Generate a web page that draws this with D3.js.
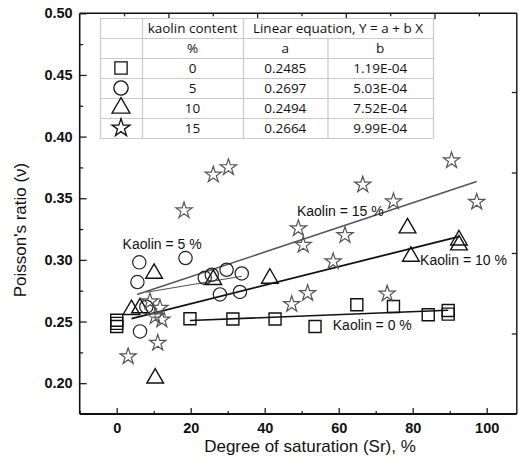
<!DOCTYPE html>
<html>
<head>
<meta charset="utf-8">
<script src="https://cdn.jsdelivr.net/npm/d3@7/dist/d3.min.js"></script>
<style>
  html, body { margin: 0; padding: 0; background: #fff; }
  svg { display: block; }
</style>
</head>
<body>
<svg id="chart" width="519" height="460"></svg>
<script>
// Kaolin content of each mix (%)
const kaolinContent = [0, 5, 10, 15];

// Measured Poisson's ratio against degree of saturation, one pair of arrays per mix
const srK0  = [0, 0, 0, 19.8, 31.4, 42.8, 53.6, 64.9, 74.8, 84.2, 89.6, 89.6];
const nuK0  = [0.251, 0.2485, 0.246, 0.2523, 0.252, 0.252, 0.246, 0.2636, 0.2622, 0.2555, 0.259, 0.256];

const srK5  = [5.6, 6.1, 6.3, 8.0, 18.6, 23.8, 25.7, 27.9, 29.7, 33.3, 33.8];
const nuK5  = [0.282, 0.298, 0.242, 0.262, 0.3015, 0.2855, 0.288, 0.272, 0.292, 0.274, 0.289];

const srK10 = [4.0, 6.3, 10.1, 10.4, 26.1, 41.4, 78.6, 79.5, 92.5, 92.5];
const nuK10 = [0.2596, 0.261, 0.289, 0.204, 0.284, 0.285, 0.3258, 0.3028, 0.316, 0.312];

const srK15 = [3.1, 9.0, 10.4, 11.1, 11.7, 12.2, 18.2, 26.1, 30.2, 47.3, 49.1, 50.4, 51.6, 58.5, 61.7, 66.5, 73.1, 74.8, 90.5, 97.3];
const nuK15 = [0.2217, 0.2663, 0.254, 0.2326, 0.261, 0.2515, 0.340, 0.369, 0.375, 0.264, 0.3255, 0.312, 0.273, 0.2987, 0.320, 0.361, 0.2725, 0.3473, 0.3806, 0.347];

// Linear fits  nu = a + b * Sr
const fitA = [0.2485, 0.2697, 0.2494, 0.2664];
const fitB = [1.19e-4, 5.03e-4, 7.52e-4, 9.99e-4];
const fitFrom = [19.8, 8.0, 4.0, 5.5];
const fitTo   = [89.6, 33.8, 92.5, 97.3];

// Fit labels
const fitLabels = ["Kaolin = 0 %", "Kaolin = 5 %", "Kaolin = 10 %", "Kaolin = 15 %"];

// Axis ticks
const xTicksMajor = [0, 20, 40, 60, 80, 100];
const xTicksMinor = [-10, 10, 30, 50, 70, 90];
const yTicksMajor = [0.20, 0.25, 0.30, 0.35, 0.40, 0.45, 0.50];
const yTicksMinor = [0.225, 0.275, 0.325, 0.375, 0.425, 0.475];

const svg = d3.select("#chart");
const font = "'Liberation Sans', Arial, sans-serif";

const x = d3.scaleLinear().domain([-10, 108]).range([79.7, 516.3]);
const y = d3.scaleLinear().domain([0.175, 0.5]).range([414, 13.3]);
// secondary frame scales (unlabelled top and right axes)
const xTop = d3.scaleLinear().domain([0, 4.922]).range([79.7, 516.3]);
const yRight = d3.scaleLinear().domain([0, 5]).range([414, 11.5]);

const series = [
  { sr: srK0,  nu: nuK0,  shape: d3.symbolSquare,   size: 144, color: "#111", width: 1.4 },
  { sr: srK5,  nu: nuK5,  shape: d3.symbolCircle,   size: 139, color: "#222", width: 1.2 },
  { sr: srK10, nu: nuK10, shape: d3.symbolTriangle, size: 121, color: "#111", width: 1.4 },
  { sr: srK15, nu: nuK15, shape: d3.symbolStar,     size: 82,  color: "#555", width: 1.2 }
];
const lineStyle = [
  { color: "#111", width: 1.6 },
  { color: "#555", width: 1.2 },
  { color: "#111", width: 1.8 },
  { color: "#555", width: 1.5 }
];

// ---- frame and axes ----
function styleAxis(g) {
  g.select(".domain").remove();
  g.selectAll(".tick line").attr("stroke", "#222").attr("stroke-width", 1.3);
  g.selectAll(".tick text")
    .attr("fill", "#111")
    .style("font-family", font)
    .style("font-size", "14.5px")
    .style("font-weight", "bold");
}

svg.append("g").attr("transform", "translate(0,414)")
  .call(d3.axisBottom(x).tickValues(xTicksMajor).tickSize(-6).tickPadding(9).tickSizeOuter(0))
  .call(styleAxis);
svg.append("g").attr("transform", "translate(0,414)")
  .call(d3.axisBottom(x).tickValues(xTicksMinor).tickSize(-3).tickFormat("").tickSizeOuter(0))
  .call(styleAxis);

svg.append("g").attr("transform", "translate(79.7,0)")
  .call(d3.axisLeft(y).tickValues(yTicksMajor).tickSize(-7).tickPadding(7).tickSizeOuter(0)
        .tickFormat(d3.format(".2f")))
  .call(styleAxis);
svg.append("g").attr("transform", "translate(79.7,0)")
  .call(d3.axisLeft(y).tickValues(yTicksMinor).tickSize(-3.5).tickFormat("").tickSizeOuter(0))
  .call(styleAxis);

svg.append("g").attr("transform", "translate(0,13.3)")
  .call(d3.axisTop(xTop).tickValues([1, 2, 3, 4]).tickSize(-6).tickFormat("").tickSizeOuter(0))
  .call(styleAxis);
svg.append("g").attr("transform", "translate(0,13.3)")
  .call(d3.axisTop(xTop).tickValues([0.5, 1.5, 2.5, 3.5, 4.5]).tickSize(-3).tickFormat("").tickSizeOuter(0))
  .call(styleAxis);

svg.append("g").attr("transform", "translate(516.8,0)")
  .call(d3.axisRight(yRight).tickValues([1, 2, 3, 4]).tickSize(-5).tickFormat("").tickSizeOuter(0))
  .call(styleAxis);

const [x0, x1] = x.range();
const [yb, yt] = y.range();
svg.append("line").attr("x1", x0).attr("x2", x1 + 0.5).attr("y1", yb).attr("y2", yb)
  .attr("stroke", "#111").attr("stroke-width", 2.2);
svg.append("line").attr("x1", x0).attr("x2", x0).attr("y1", yt).attr("y2", yb)
  .attr("stroke", "#111").attr("stroke-width", 1.6);
svg.append("line").attr("x1", x0).attr("x2", x1 + 0.5).attr("y1", yt).attr("y2", yt)
  .attr("stroke", "#111").attr("stroke-width", 1.6);
svg.append("line").attr("x1", x1 + 0.5).attr("x2", x1 + 0.5).attr("y1", yt).attr("y2", yb)
  .attr("stroke", "#111").attr("stroke-width", 1.4);

// axis titles
svg.append("text")
  .attr("x", (x0 + x1) / 2 + 12).attr("y", 452)
  .attr("text-anchor", "middle")
  .style("font-family", font).style("font-size", "17px").attr("fill", "#111")
  .text("Degree of saturation (Sr), %");
svg.append("text")
  .attr("transform", "translate(26,230) rotate(-90)")
  .attr("text-anchor", "middle")
  .style("font-family", font).style("font-size", "17px").attr("fill", "#111")
  .text("Poisson's ratio (\u03bd)");

// ---- fitted lines ----
const plot = svg.append("g");
kaolinContent.forEach((k, i) => {
  const pts = [fitFrom[i], fitTo[i]].map(s => [x(s), y(fitA[i] + fitB[i] * s)]);
  plot.append("path")
    .attr("d", d3.line()(pts))
    .attr("fill", "none")
    .attr("stroke", lineStyle[i].color)
    .attr("stroke-width", lineStyle[i].width);
});

// ---- markers ----
series.forEach(s => {
  const sym = d3.symbol().type(s.shape).size(s.size);
  plot.append("g").selectAll("path")
    .data(d3.zip(s.sr, s.nu))
    .join("path")
    .attr("transform", d => `translate(${x(d[0])},${y(d[1])})`)
    .attr("d", sym)
    .attr("fill", "none")
    .attr("stroke", s.color)
    .attr("stroke-width", s.width);
});

// ---- fit labels (anchored in data coordinates) ----
const labelAt = [[58.4, 0.2434], [1.6, 0.309], [82.0, 0.296], [48.7, 0.3357]];
fitLabels.forEach((t, i) => {
  svg.append("text")
    .attr("x", x(labelAt[i][0])).attr("y", y(labelAt[i][1]))
    .style("font-family", font).style("font-size", "14px").attr("fill", "#111")
    .text(t);
});

// ---- coefficient table ----
const colX = [100, 142, 243, 327.5, 433];
const rowY = [18, 38, 58, 78, 98, 118, 138];
const tfont = "'Open Sans', 'Noto Sans', sans-serif";
const tbl = svg.append("g");
tbl.append("rect")
  .attr("x", colX[0]).attr("y", rowY[0])
  .attr("width", colX[4] - colX[0]).attr("height", rowY[6] - rowY[0])
  .attr("fill", "#fff");
const gridColor = "#c9c9c9";
rowY.forEach(ry => {
  tbl.append("line").attr("x1", colX[0]).attr("x2", colX[4]).attr("y1", ry + 0.5).attr("y2", ry + 0.5)
    .attr("stroke", gridColor).attr("stroke-width", 1.2);
});
colX.forEach((cx, j) => {
  const top = (j === 3) ? rowY[1] : rowY[0];
  tbl.append("line").attr("x1", cx + 0.5).attr("x2", cx + 0.5).attr("y1", top).attr("y2", rowY[6])
    .attr("stroke", gridColor).attr("stroke-width", 1.2);
});

function cell(text, xc, row) {
  tbl.append("text")
    .attr("x", xc).attr("y", (rowY[row] + rowY[row + 1]) / 2)
    .attr("dy", "0.36em")
    .attr("text-anchor", "middle")
    .style("font-family", tfont).style("font-size", "13.5px").attr("fill", "#111")
    .text(text);
}
const mid = j => (colX[j] + colX[j + 1]) / 2;
cell("kaolin content", mid(1), 0);
cell("Linear equation, Y = a + b X", (colX[2] + colX[4]) / 2, 0);
cell("%", mid(1), 1);
cell("a", mid(2), 1);
cell("b", mid(3), 1);

const fmtB = v => {
  const [m, e] = v.toExponential(2).split("e");
  const ev = parseInt(e, 10);
  return m + "E" + (ev < 0 ? "-" : "+") + String(Math.abs(ev)).padStart(2, "0");
};
const tableSymbolSize = [150, 160, 140, 100];
kaolinContent.forEach((k, i) => {
  const r = i + 2;
  const cy = (rowY[r] + rowY[r + 1]) / 2;
  tbl.append("path")
    .attr("transform", `translate(${mid(0)},${cy})`)
    .attr("d", d3.symbol().type(series[i].shape).size(tableSymbolSize[i]))
    .attr("fill", "none").attr("stroke", "#111").attr("stroke-width", 1.3);
  cell(String(k), mid(1), r);
  cell(fitA[i].toFixed(4), mid(2), r);
  cell(fmtB(fitB[i]), mid(3), r);
});
</script>
</body>
</html>
